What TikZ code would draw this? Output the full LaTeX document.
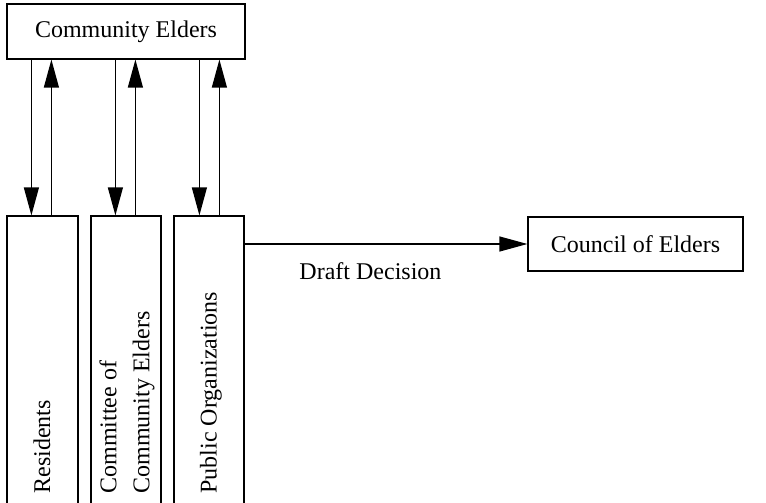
\documentclass[tikz,border=0pt]{standalone}
\usepackage{fontspec}
\setmainfont{Liberation Serif}
\usetikzlibrary{arrows.meta,calc}

\begin{document}
\begin{tikzpicture}[x=1pt,y=-1pt,
  every node/.style={font=\fontsize{24}{33}\selectfont},
  box/.style={draw,line width=1.2pt,inner sep=0pt},
  arr/.style={line width=1.2pt,-{Triangle[length=28pt,width=15pt]}}]
  \useasboundingbox (0,0) rectangle (766,503);

  % top box
  \node[box,minimum width=238pt,minimum height=55pt] (ce) at (126,31.5) {Community Elders};

  % tall boxes (run past the bottom edge)
  \node[box,minimum width=71pt,minimum height=304pt] (res) at (42.5,368) {};
  \node[box,minimum width=70pt,minimum height=304pt] (com) at (126,368) {};
  \node[box,minimum width=70pt,minimum height=304pt] (pub) at (209,368) {};

  % rotated labels
  \node[rotate=90,anchor=west,align=left] at (42,497) {Residents};
  \node[rotate=90,anchor=west,align=left] at (127,497) {Committee of\\Community Elders};
  \node[rotate=90,anchor=west,align=left] at (211,497) {Public Organizations};

  % right box
  \node[box,minimum width=215pt,minimum height=54pt] (cou) at (635.5,244) {Council of Elders};

  % vertical arrow pairs
  \path (res.north west) ++(25,0) coordinate (r1) ++(20,0) coordinate (r2);
  \path (com.north west) ++(25,0) coordinate (c1) ++(20,0) coordinate (c2);
  \path (pub.north west) ++(26,0) coordinate (p1) ++(20,0) coordinate (p2);
  \foreach \a/\b in {r1/r2,c1/c2,p1/p2}{
    \draw[arr] (\a |- ce.south) -- (\a);
    \draw[arr] (\b) -- (\b |- ce.south);
  }

  % decision arrow
  \draw[arr] (pub.east |- cou.west) -- (cou.west)
    node[pos=0.445,below=15pt] (dd) {Draft Decision};
\end{tikzpicture}
\end{document}
